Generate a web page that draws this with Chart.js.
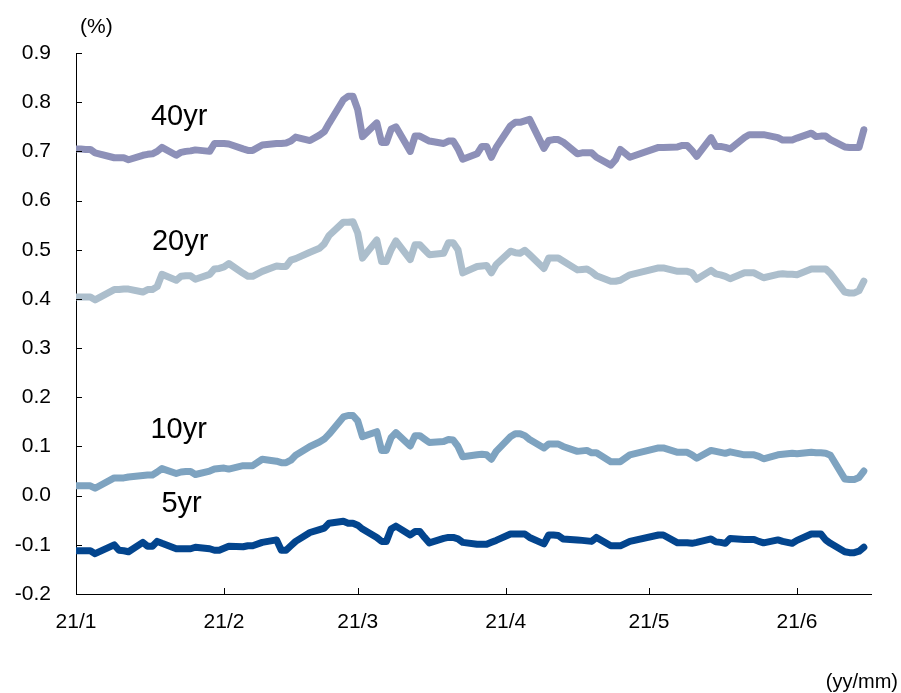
<!DOCTYPE html>
<html>
<head>
<meta charset="utf-8">
<script src="https://cdn.jsdelivr.net/npm/chart.js@4/dist/chart.umd.min.js"></script>
<style>
  html, body { margin: 0; padding: 0; background: #fff; }
  #grafica { display: block; }
</style>
</head>
<body>
<canvas id="grafica" width="901" height="693"></canvas>
<script>
// Fechas de negociación (2021, M/D)
const fechas = [
  '1/4','1/5','1/6','1/7','1/8','1/12','1/13','1/14','1/15','1/18','1/19','1/20','1/21','1/22','1/25','1/26','1/27','1/28','1/29',
  '2/1','2/2','2/3','2/4','2/5','2/8','2/9','2/10','2/12','2/15','2/16','2/17','2/18','2/19','2/22','2/24','2/25','2/26',
  '3/1','3/2','3/3','3/4','3/5','3/8','3/9','3/10','3/11','3/12','3/15','3/16','3/17','3/18','3/19','3/22','3/23','3/24','3/25','3/26','3/29','3/30','3/31',
  '4/1','4/2','4/5','4/6','4/7','4/8','4/9','4/12','4/13','4/14','4/15','4/16','4/19','4/20','4/21','4/22','4/23','4/26','4/27','4/28','4/30',
  '5/6','5/7','5/10','5/11','5/12','5/13','5/14','5/17','5/18','5/19','5/20','5/21','5/24','5/25','5/26','5/27','5/28','5/31',
  '6/1','6/2','6/3','6/4','6/7','6/8','6/9','6/10','6/11','6/14','6/15','6/16','6/17','6/18'
];

const rend40 = [
  0.705,0.705,0.704,0.704,0.697,0.687,0.687,0.687,0.683,0.692,0.694,0.695,0.700,0.708,0.692,0.698,0.700,0.701,0.703,
  0.700,0.716,0.716,0.716,0.715,0.705,0.702,0.702,0.713,0.716,0.716,0.717,0.721,0.729,0.722,0.733,0.740,0.757,
  0.805,0.812,0.812,0.785,0.730,0.758,0.718,0.718,0.745,0.750,0.700,0.731,0.731,0.726,0.721,0.716,0.721,0.721,0.705,0.684,0.695,0.710,0.710,
  0.688,0.708,0.752,0.759,0.759,0.762,0.765,0.706,0.722,0.724,0.724,0.719,0.695,0.697,0.697,0.697,0.688,0.672,0.683,0.704,0.688,
  0.708,0.708,0.709,0.712,0.712,0.702,0.690,0.728,0.710,0.710,0.708,0.705,0.728,0.734,0.734,0.734,0.734,0.728,
  0.723,0.723,0.723,0.727,0.737,0.730,0.731,0.731,0.724,0.709,0.708,0.708,0.708,0.744
];

const rend20 = [
  0.404,0.404,0.404,0.404,0.398,0.419,0.419,0.420,0.420,0.414,0.419,0.419,0.425,0.450,0.438,0.446,0.447,0.447,0.440,
  0.450,0.461,0.462,0.465,0.472,0.452,0.446,0.446,0.456,0.467,0.466,0.466,0.479,0.482,0.495,0.503,0.512,0.529,
  0.556,0.556,0.557,0.534,0.483,0.520,0.476,0.476,0.500,0.518,0.480,0.510,0.510,0.500,0.490,0.493,0.514,0.514,0.500,0.453,0.466,0.467,0.468,
  0.453,0.470,0.497,0.494,0.493,0.499,0.490,0.462,0.483,0.483,0.483,0.477,0.459,0.460,0.461,0.455,0.447,0.436,0.436,0.438,0.449,
  0.463,0.463,0.456,0.456,0.456,0.453,0.440,0.458,0.451,0.449,0.446,0.441,0.453,0.453,0.453,0.448,0.443,0.450,
  0.451,0.450,0.450,0.449,0.461,0.461,0.461,0.461,0.452,0.414,0.412,0.412,0.417,0.436
];

const rend10 = [
  0.020,0.020,0.020,0.020,0.015,0.036,0.036,0.036,0.038,0.041,0.042,0.042,0.048,0.055,0.045,0.048,0.049,0.049,0.043,
  0.050,0.054,0.055,0.056,0.054,0.061,0.061,0.061,0.074,0.070,0.067,0.067,0.072,0.082,0.100,0.109,0.115,0.125,
  0.160,0.163,0.163,0.152,0.120,0.130,0.092,0.092,0.118,0.128,0.101,0.122,0.122,0.115,0.108,0.110,0.114,0.113,0.100,0.079,0.083,0.084,0.083,
  0.074,0.090,0.120,0.126,0.126,0.122,0.114,0.097,0.105,0.105,0.105,0.100,0.090,0.091,0.092,0.087,0.087,0.069,0.069,0.069,0.083,
  0.097,0.097,0.088,0.088,0.088,0.083,0.076,0.092,0.090,0.088,0.086,0.089,0.083,0.083,0.083,0.080,0.075,0.083,
  0.084,0.085,0.086,0.085,0.088,0.087,0.087,0.086,0.082,0.034,0.033,0.033,0.037,0.050
];

const rend5 = [
  -0.112,-0.112,-0.112,-0.112,-0.118,-0.100,-0.111,-0.112,-0.114,-0.095,-0.103,-0.103,-0.093,-0.097,-0.108,-0.108,-0.108,-0.108,-0.105,
  -0.108,-0.111,-0.111,-0.107,-0.103,-0.104,-0.102,-0.102,-0.095,-0.090,-0.111,-0.111,-0.102,-0.093,-0.075,-0.069,-0.066,-0.056,
  -0.052,-0.056,-0.056,-0.060,-0.068,-0.085,-0.093,-0.093,-0.068,-0.062,-0.080,-0.073,-0.073,-0.085,-0.096,-0.087,-0.085,-0.085,-0.088,-0.095,-0.099,-0.099,-0.099,
  -0.095,-0.091,-0.078,-0.078,-0.078,-0.078,-0.085,-0.098,-0.080,-0.080,-0.081,-0.088,-0.090,-0.091,-0.092,-0.093,-0.085,-0.102,-0.102,-0.102,-0.093,
  -0.080,-0.080,-0.096,-0.096,-0.096,-0.097,-0.095,-0.088,-0.094,-0.095,-0.097,-0.087,-0.089,-0.089,-0.089,-0.093,-0.096,-0.090,
  -0.093,-0.095,-0.097,-0.091,-0.078,-0.078,-0.078,-0.090,-0.097,-0.114,-0.116,-0.116,-0.113,-0.105
];

// Marcas del eje X y sus etiquetas
const fechasMarcas = ['1/4', '2/4', '3/4', '4/4', '5/4', '6/4'];
const etiquetasMarcas = ['21/1', '21/2', '21/3', '21/4', '21/5', '21/6'];
const marcasY = [-0.2, -0.1, 0.0, 0.1, 0.2, 0.3, 0.4, 0.5, 0.6, 0.7, 0.8, 0.9];

const FUENTE = "Arial, 'Liberation Sans', sans-serif";

// días transcurridos desde el primer día hábil
function diaDesdeInicio(md) {
  const [mes, dia] = md.split('/').map(Number);
  return (Date.UTC(2021, mes - 1, dia) - Date.UTC(2021, 0, 4)) / 864e5;
}

const diasX = fechas.map(diaDesdeInicio);
const diasMarcas = fechasMarcas.map(diaDesdeInicio);

function serie(valores) {
  return valores.map((v, i) => ({ x: diasX[i], y: v }));
}

const series = [
  { nombre: '40yr', datos: rend40, color: '#8d90b8', etiqueta: { x: 21.6, y: 0.754 } },
  { nombre: '20yr', datos: rend20, color: '#acbecc', etiqueta: { x: 21.8, y: 0.500 } },
  { nombre: '10yr', datos: rend10, color: '#7ea3c0', etiqueta: { x: 21.5, y: 0.1175 } },
  { nombre: '5yr', datos: rend5, color: '#03458e', etiqueta: { x: 22.1, y: -0.033 } }
];

// Marcas hacia dentro, nombres de las series y unidades
const decoracion = {
  id: 'decoracion',
  afterDraw(chart) {
    const { ctx, chartArea, scales } = chart;
    ctx.save();
    ctx.strokeStyle = '#000';
    ctx.lineWidth = 1;
    ctx.beginPath();
    marcasY.forEach(v => {
      const y = Math.round(scales.y.getPixelForValue(v)) + 0.5;
      ctx.moveTo(chartArea.left, y);
      ctx.lineTo(chartArea.left + 6, y);
    });
    diasMarcas.forEach(d => {
      const x = Math.round(scales.x.getPixelForValue(d)) + 0.5;
      ctx.moveTo(x, chartArea.bottom);
      ctx.lineTo(x, chartArea.bottom - 6);
    });
    ctx.stroke();

    ctx.fillStyle = '#000';
    ctx.textBaseline = 'alphabetic';
    ctx.font = '29px ' + FUENTE;
    ctx.textAlign = 'center';
    series.forEach(s => {
      ctx.fillText(s.nombre, scales.x.getPixelForValue(s.etiqueta.x), scales.y.getPixelForValue(s.etiqueta.y));
    });

    ctx.font = '21px ' + FUENTE;
    ctx.textAlign = 'left';
    ctx.fillText('(%)', 80, 33);
    ctx.font = '20px ' + FUENTE;
    ctx.textAlign = 'right';
    ctx.fillText('(yy/mm)', 898, 688);
    ctx.restore();
  }
};

new Chart(document.getElementById('grafica'), {
  type: 'line',
  data: {
    datasets: series.map(s => ({
      label: s.nombre,
      data: serie(s.datos),
      borderColor: s.color,
      backgroundColor: s.color,
      borderWidth: 7,
      borderCapStyle: 'round',
      borderJoinStyle: 'round',
      pointRadius: 0,
      tension: 0,
      fill: false
    }))
  },
  options: {
    responsive: false,
    animation: false,
    layout: { padding: { top: 53, right: 30, bottom: 0, left: 0 } },
    plugins: {
      legend: { display: false },
      tooltip: { enabled: false }
    },
    scales: {
      x: {
        type: 'linear',
        min: 0,
        max: 166.5,
        afterBuildTicks: scale => {
          scale.ticks = diasMarcas.map(v => ({ value: v }));
        },
        afterFit: scale => { scale.height = 99; },
        grid: { display: false, drawTicks: false },
        border: { display: true, color: '#000', width: 1 },
        ticks: {
          autoSkip: false,
          maxRotation: 0,
          padding: 16,
          color: '#000',
          font: { family: FUENTE, size: 21 },
          callback: (valor) => {
            const i = diasMarcas.indexOf(valor);
            return i >= 0 ? etiquetasMarcas[i] : '';
          }
        }
      },
      y: {
        min: -0.2,
        max: 0.9,
        afterBuildTicks: scale => {
          scale.ticks = marcasY.map(v => ({ value: v }));
        },
        afterFit: scale => { scale.width = 76; },
        grid: { display: false, drawTicks: false },
        border: { display: true, color: '#000', width: 1 },
        ticks: {
          padding: 25,
          color: '#000',
          font: { family: FUENTE, size: 21 },
          callback: v => (Math.abs(v) < 1e-9 ? 0 : v).toFixed(1)
        }
      }
    }
  },
  plugins: [decoracion]
});
</script>
</body>
</html>
